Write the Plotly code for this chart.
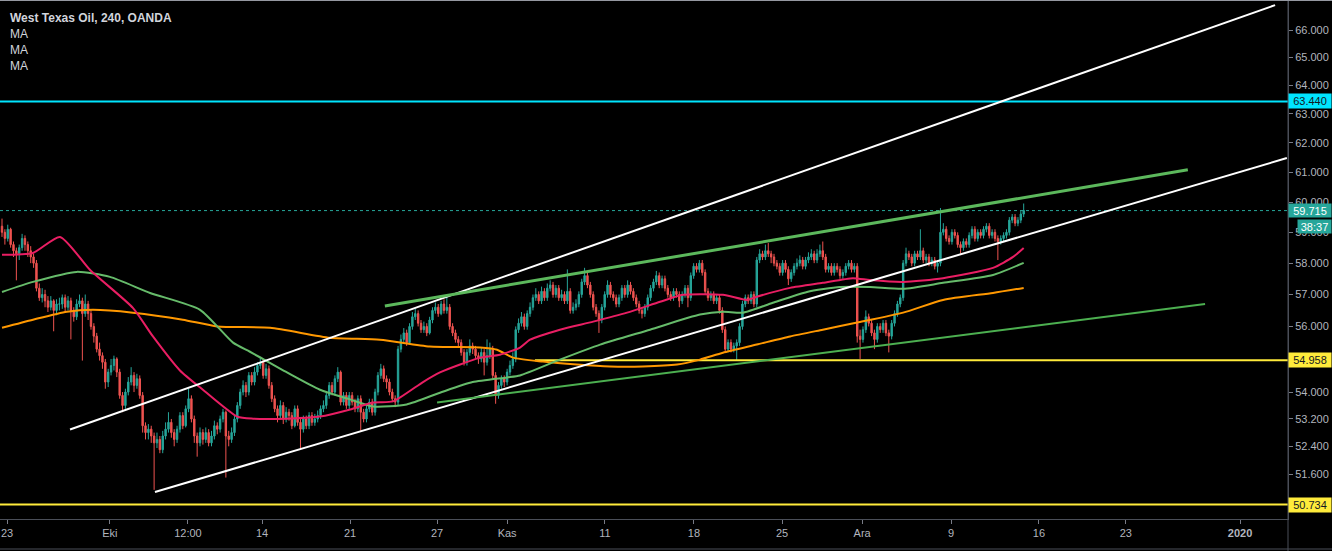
import math
import plotly.graph_objects as go

# ---------------- DATA ----------------
first_open = 59.2
close = [
    59.0, 58.8, 59.1, 58.6, 58.4, 58.3, 58.5, 58.8, 58.6, 58.4,
    58.2, 58.0, 57.2, 56.9, 57.0, 56.8, 56.6, 56.8, 56.5, 56.7,
    56.7, 56.9, 56.6, 56.8, 56.5, 56.3, 56.7, 56.8, 56.4, 56.7,
    56.4, 56.0, 55.7, 55.3, 55.1, 54.9, 54.3, 54.6, 54.8, 55.0,
    54.6, 53.9, 53.6, 54.0, 54.3, 54.5, 54.2, 54.4, 53.9, 53.0,
    52.8, 52.9, 52.7, 52.5, 52.6, 52.3, 52.7, 52.9, 53.1, 52.8,
    52.6, 52.9, 53.3, 53.0, 53.5, 53.8, 53.2, 52.7, 52.5, 52.8,
    52.6, 52.8, 52.5, 52.7, 53.0, 52.9, 53.2, 53.4, 52.7, 52.6,
    52.8, 53.2, 53.6, 54.0, 54.2, 54.0, 54.5, 54.3, 54.6, 54.8,
    54.9, 54.5, 54.7, 54.2, 53.8, 53.5, 53.3, 53.6, 53.2, 53.4,
    53.3, 53.0, 53.5, 53.1, 52.9, 53.2, 53.0, 53.3, 53.1, 53.2,
    53.3, 53.5, 53.6, 53.9, 54.2, 54.0, 54.4, 54.6, 53.7, 53.9,
    53.6, 53.9, 53.7, 53.5, 53.8, 53.4, 53.2, 53.5, 53.7, 53.4,
    54.0, 54.5, 54.7, 54.4, 54.3, 54.0, 53.8, 53.7, 55.3, 55.6,
    55.8, 55.5, 56.0, 56.3, 56.4, 56.1, 55.9, 56.0, 55.8, 56.2,
    56.5, 56.6, 56.4, 56.7, 56.5, 56.6, 56.0, 55.8, 55.6, 55.5,
    55.2, 54.9, 55.2, 55.4, 55.3, 55.1, 55.0, 55.2, 54.9, 55.1,
    55.3, 54.5, 53.9, 54.2, 54.4, 54.3, 54.6, 54.8, 55.0, 55.9,
    56.1, 56.3, 56.0, 56.4, 56.6, 56.9, 57.0, 56.8, 57.1, 56.9,
    57.2, 57.3, 57.0, 57.2, 56.9, 57.0, 56.8, 57.1, 56.5, 56.6,
    56.7, 57.0, 57.4, 57.6, 57.3, 57.0, 56.6, 56.4, 56.2, 56.6,
    57.0, 57.3, 57.0, 56.9, 56.7, 56.9, 57.2, 57.0, 57.3, 57.1,
    56.9, 56.7, 56.5, 56.4, 56.6, 56.9, 57.2, 57.4, 57.6, 57.3,
    57.5, 57.2, 57.0, 56.9, 57.1, 57.0, 56.8, 57.0, 57.2, 56.9,
    57.6, 57.9, 57.8, 58.0, 57.7, 57.1, 56.9, 57.0, 56.8, 56.9,
    56.5, 55.9, 55.3, 55.5, 55.3, 55.4, 55.5, 56.0, 56.7, 56.9,
    56.8, 57.0, 56.7, 58.1, 58.3, 58.2, 58.4, 58.3, 58.2, 58.0,
    57.9, 57.7, 58.0, 57.8, 57.5, 57.7, 57.9, 58.0, 58.1, 57.9,
    58.1, 58.2, 58.3, 58.1, 58.3, 58.4, 58.2, 57.8, 57.9, 57.7,
    57.9, 57.8, 57.6, 57.7, 57.9, 58.0, 57.8, 57.9, 55.7, 55.6,
    55.9, 56.3, 56.1, 55.8, 55.6, 56.0, 55.9, 56.1, 55.8, 55.7,
    56.1, 56.4, 56.7, 56.9, 58.0, 58.3, 58.2, 58.0, 58.3, 58.2,
    58.4, 58.1, 58.2, 58.0, 58.1, 57.9, 58.0, 59.0, 59.1, 58.8,
    58.7, 59.0, 58.9, 58.6, 58.5, 58.7, 58.6, 58.9, 59.1, 58.8,
    59.0, 58.9, 59.1, 59.2, 58.9, 59.0, 58.8, 58.7, 58.8, 58.9,
    59.0, 59.4, 59.5, 59.3, 59.4, 59.6, 59.715,
]
high = [
    59.45, 59.1, 59.25, 59.15, 58.7, 58.5, 58.6, 58.95, 58.9, 58.7,
    58.55, 58.3, 58.1, 57.35, 57.2, 57.15, 56.95, 56.95, 56.85, 56.85,
    56.9, 57.0, 57.0, 56.95, 56.9, 56.6, 56.85, 57.0, 56.9, 57.0,
    56.8, 56.5, 56.1, 55.8, 55.5, 55.2, 55.0, 54.7, 55.0, 55.1,
    55.05, 54.7, 54.0, 54.1, 54.45, 54.75, 54.6, 54.55, 54.5, 54.0,
    53.1, 53.05, 53.0, 52.8, 52.8, 52.7, 52.85, 53.1, 53.4, 53.2,
    52.9, 53.0, 53.4, 53.4, 53.6, 54.1, 53.9, 53.3, 52.8, 52.95,
    52.9, 52.95, 52.9, 52.85, 53.15, 53.1, 53.3, 53.5, 53.45, 52.85,
    52.95, 53.3, 53.7, 54.1, 54.35, 54.3, 54.6, 54.6, 54.75, 54.9,
    55.05, 55.0, 54.85, 54.8, 54.3, 53.9, 53.6, 53.75, 53.7, 53.55,
    53.5, 53.4, 53.6, 53.6, 53.2, 53.3, 53.3, 53.4, 53.4, 53.35,
    53.45, 53.6, 53.75, 54.0, 54.3, 54.3, 54.5, 54.75, 54.65, 54.0,
    54.0, 54.0, 54.0, 53.8, 53.9, 53.9, 53.5, 53.6, 53.8, 53.8,
    54.1, 54.6, 54.85, 54.8, 54.5, 54.4, 54.1, 53.9, 55.4, 55.75,
    55.95, 55.9, 56.1, 56.45, 56.55, 56.5, 56.2, 56.15, 56.1, 56.3,
    56.6, 56.75, 56.7, 56.8, 56.85, 56.95, 56.7, 56.1, 55.9, 55.7,
    55.6, 55.3, 55.3, 55.6, 55.5, 55.4, 55.2, 55.35, 55.3, 55.6,
    55.5, 55.4, 54.6, 54.3, 54.5, 54.5, 54.7, 54.95, 55.2, 56.0,
    56.25, 56.45, 56.4, 56.5, 56.75, 57.0, 57.2, 57.1, 57.25, 57.2,
    57.35, 57.45, 57.4, 57.3, 57.3, 57.15, 57.1, 57.8, 57.2, 56.75,
    56.85, 57.1, 57.5, 57.85, 57.7, 57.4, 57.1, 56.7, 56.5, 56.7,
    57.1, 57.45, 57.4, 57.1, 57.0, 57.0, 57.3, 57.3, 57.45, 57.4,
    57.2, 57.0, 56.8, 56.6, 56.7, 57.0, 57.3, 57.5, 57.75, 57.7,
    57.6, 57.6, 57.3, 57.1, 57.2, 57.2, 57.1, 57.1, 57.3, 57.3,
    57.7, 58.0, 58.0, 58.1, 58.1, 57.8, 57.2, 57.1, 57.1, 57.0,
    57.0, 56.6, 56.0, 55.6, 55.6, 55.5, 55.6, 56.1, 56.8, 57.0,
    57.0, 57.1, 57.1, 58.2, 58.45, 58.4, 58.6, 58.65, 58.4, 58.3,
    58.1, 58.0, 58.1, 58.1, 57.9, 57.8, 58.0, 58.15, 58.25, 58.2,
    58.2, 58.35, 58.45, 58.4, 58.45, 58.6, 58.7, 58.3, 58.0, 58.0,
    58.0, 58.0, 57.9, 57.8, 58.0, 58.1, 58.1, 58.0, 58.0, 55.9,
    56.0, 56.5, 56.4, 56.2, 55.9, 56.1, 56.1, 56.2, 56.2, 55.9,
    56.2, 56.5, 56.8, 57.0, 58.1, 58.5, 58.4, 58.3, 58.4, 58.4,
    59.1, 58.5, 58.3, 58.3, 58.2, 58.2, 58.1, 59.8, 59.3, 59.2,
    58.9, 59.1, 59.1, 59.0, 58.7, 58.8, 58.8, 59.0, 59.2, 59.2,
    59.1, 59.1, 59.2, 59.3, 59.3, 59.1, 59.1, 58.9, 58.9, 59.0,
    59.1, 59.5, 59.6, 59.6, 59.5, 59.7, 59.95,
]
low = [
    58.85, 58.6, 58.7, 58.5, 58.2, 57.45, 58.1, 58.4, 58.4, 58.2,
    58.0, 57.85, 57.1, 56.8, 56.75, 56.6, 56.45, 56.5, 55.85, 56.35,
    56.5, 56.55, 56.45, 56.5, 55.6, 56.15, 56.2, 56.6, 54.95, 56.3,
    56.2, 55.9, 55.5, 55.2, 54.95, 54.7, 54.1, 54.15, 54.5, 54.65,
    54.45, 53.8, 53.4, 53.5, 53.9, 54.2, 54.0, 54.1, 53.8, 52.8,
    52.6, 52.6, 52.5, 51.15, 52.35, 52.2, 52.2, 52.6, 52.8, 52.65,
    52.4, 52.5, 52.8, 52.9, 52.95, 53.4, 53.1, 52.5, 52.1, 52.4,
    52.45, 52.5, 52.4, 52.4, 52.6, 52.75, 52.8, 53.1, 51.5, 52.4,
    52.5, 52.7, 53.1, 53.5, 53.9, 53.85, 53.9, 54.2, 54.2, 54.5,
    54.7, 54.4, 54.4, 54.1, 53.7, 53.4, 53.1, 53.2, 53.05, 53.1,
    53.15, 52.9, 52.95, 53.0, 52.3, 52.8, 52.9, 52.9, 53.0, 53.0,
    53.1, 53.2, 53.4, 53.5, 53.8, 53.9, 53.9, 54.3, 53.6, 53.6,
    53.5, 53.5, 53.6, 53.4, 53.4, 52.85, 53.1, 53.1, 53.4, 53.3,
    53.3, 53.9, 54.4, 54.3, 54.1, 53.9, 53.7, 53.55, 53.6, 55.2,
    55.5, 55.4, 55.45, 55.9, 56.2, 56.0, 55.8, 55.8, 55.7, 55.75,
    56.1, 56.4, 56.3, 56.35, 56.4, 56.4, 55.9, 55.7, 55.5, 55.35,
    55.1, 54.8, 54.8, 55.1, 55.15, 55.0, 54.85, 54.9, 54.5, 54.8,
    55.0, 54.4, 53.65, 53.8, 54.1, 54.15, 54.2, 54.5, 54.7, 54.9,
    55.8, 56.0, 55.9, 55.9, 56.3, 56.5, 56.8, 56.7, 56.7, 56.8,
    56.8, 57.1, 56.9, 56.9, 56.8, 56.8, 56.7, 56.7, 56.4, 56.4,
    56.5, 56.6, 56.9, 57.3, 57.2, 56.9, 56.5, 56.3, 55.8, 56.1,
    56.5, 56.9, 56.9, 56.8, 56.6, 56.6, 56.8, 56.9, 56.9, 57.0,
    56.8, 56.6, 56.4, 56.25, 56.3, 56.5, 56.8, 57.1, 57.3, 57.2,
    57.2, 57.1, 56.9, 56.8, 56.8, 56.9, 56.6, 56.7, 56.9, 56.6,
    56.8, 57.5, 57.7, 57.7, 57.6, 57.0, 56.8, 56.8, 56.7, 56.7,
    56.4, 55.8, 55.2, 55.2, 55.2, 55.2, 54.95, 55.4, 55.9, 56.6,
    56.7, 56.7, 56.6, 56.6, 58.0, 58.1, 58.1, 58.2, 58.0, 57.9,
    57.8, 57.6, 57.6, 57.7, 57.3, 57.4, 57.6, 57.8, 57.9, 57.8,
    57.8, 58.0, 58.1, 58.0, 58.0, 58.2, 58.1, 57.7, 57.7, 57.6,
    57.6, 57.7, 57.5, 57.5, 57.6, 57.8, 57.7, 57.7, 55.5, 55.0,
    55.5, 55.8, 56.0, 55.7, 55.3, 55.5, 55.8, 55.8, 55.7, 55.2,
    55.6, 56.0, 56.3, 56.6, 56.8, 57.9, 58.1, 57.9, 57.9, 58.1,
    58.1, 58.0, 58.0, 57.9, 57.9, 57.8, 57.7, 57.9, 58.9, 58.7,
    58.6, 58.6, 58.8, 58.5, 58.3, 58.4, 58.5, 58.5, 58.8, 58.7,
    58.7, 58.8, 58.8, 59.0, 58.8, 58.8, 58.7, 58.1, 58.6, 58.7,
    58.8, 58.9, 59.3, 59.2, 59.2, 59.3, 59.5,
]

# moving averages read at sample bars (bar index, price)
ma_fast_bar = [0, 10.8, 20.2, 30.7, 45.6, 52.6, 62, 70, 82, 87.5, 99.3, 110.8, 121.3, 129.3,
               136.2, 146.7, 152.6, 159.6, 166.6, 173.5, 180.5, 184, 194.4, 206, 217.8,
               229.3, 237.3, 251.2, 259.6, 263, 274.6, 286, 296.5, 302.4, 314, 327.9,
               345.3, 352.3, 356]
ma_fast_val = [58.27, 58.33, 58.85, 57.78, 56.58, 55.69, 54.65, 54.07, 53.27, 53.21, 53.21,
               53.27, 53.48, 53.69, 53.72, 54.30, 54.59, 54.83, 55.04, 55.13, 55.35, 55.59,
               55.90, 56.15, 56.43, 56.77, 56.99, 56.99, 56.83, 56.93, 57.21, 57.37, 57.52,
               57.46, 57.40, 57.52, 57.85, 58.20, 58.49]
ma_mid_bar = [0, 10.8, 26, 37.6, 51.6, 69, 80.5, 86.4, 99.3, 110.8, 121.3, 129.3, 141,
              152.6, 164, 176, 180.5, 194.4, 208.4, 225.8, 243.2, 251.2, 258.2, 268.6,
              280.5, 292, 302.4, 314, 327.9, 345.3, 356]
ma_mid_val = [57.08, 57.40, 57.72, 57.56, 57.05, 56.52, 55.50, 55.22, 54.59, 54.07, 53.78,
              53.57, 53.63, 53.98, 54.30, 54.44, 54.50, 54.98, 55.44, 55.90, 56.37, 56.46,
              56.43, 56.74, 57.08, 57.24, 57.24, 57.18, 57.37, 57.62, 58.01]
ma_slow_bar = [0, 10.8, 22.6, 31.7, 45.6, 63, 75, 93.4, 114.3, 131.7, 149, 166.6, 172.5,
               178, 188.5, 200.3, 211.8, 223.3, 235.2, 243.2, 251.2, 263, 274.6, 286, 298,
               314, 327.9, 345.3, 356]
ma_slow_val = [55.96, 56.21, 56.46, 56.52, 56.43, 56.21, 56.00, 55.96, 55.65, 55.59, 55.38,
               55.35, 55.28, 55.04, 54.92, 54.83, 54.77, 54.77, 54.83, 54.98, 55.19, 55.44,
               55.69, 55.90, 56.12, 56.43, 56.83, 57.05, 57.21]

# drawings: (bar index pair, price pair)
channel_upper_bar = [23.7, 443.6]
channel_upper_val = [52.89, 66.92]
channel_lower_bar = [53.3, 447.7]
channel_lower_val = [51.09, 61.48]
wedge_upper_bar = [133.4, 413.2]
wedge_upper_val = [56.64, 61.08]
wedge_lower_bar = [151.6, 419.2]
wedge_lower_val = [53.69, 56.70]

level_resistance = 63.44
level_support = 54.958
level_support_start_bar = 185.7
level_low = 50.734
last_price = 59.715
countdown = "38:37"

x_tick_bars = [1.74, 37.6, 64.8, 90.6, 121.3, 151.6, 176, 210.1, 241.1, 271.8, 299.7,
               330.7, 361.3, 391.6, 431.4]
x_tick_text = ["23", "Eki", "12:00", "14", "21", "27", "Kas", "11", "18", "25", "Ara",
               "9", "16", "23", "<b>2020</b>"]
y_tick_vals = [51.6, 52.4, 53.2, 54, 55, 56, 57, 58, 59, 60, 61, 62, 63, 64, 65, 66]

x_range = [-0.7, 448.1]
y_range_price = [50.33, 67.11]

# ---------------- FIGURE ----------------
bars = list(range(len(close)))
opens = [first_open] + close[:-1]
high = [max(h, o, c) for h, o, c in zip(high, opens, close)]
low = [min(l, o, c) for l, o, c in zip(low, opens, close)]

UP = "#26a69a"
DOWN = "#ef5350"
TXT = "#b2b5be"
FONT = "Liberation Sans, Arial, sans-serif"

fig = go.Figure()

def line(xs, ys, color, width, dash="solid", shape="linear"):
    fig.add_trace(go.Scatter(x=xs, y=ys, mode="lines", hoverinfo="skip", showlegend=False,
                             line=dict(color=color, width=width, dash=dash, shape=shape,
                                       smoothing=0.6 if shape == "spline" else None)))

# horizontal levels
line(x_range, [level_resistance] * 2, "#00e5ff", 2)
line([level_support_start_bar, x_range[1]], [level_support] * 2, "#ffeb3b", 2)
line(x_range, [level_low] * 2, "#ffeb3b", 2)
line(x_range, [last_price] * 2, "#26a69a", 1, dash="dot")

# moving averages
line(ma_slow_bar, ma_slow_val, "#ff9800", 2, shape="spline")
line(ma_mid_bar, ma_mid_val, "#66bb6a", 2, shape="spline")
line(ma_fast_bar, ma_fast_val, "#e91e63", 2, shape="spline")

# candles
fig.add_trace(go.Candlestick(
    x=bars, open=opens, high=high, low=low, close=close,
    increasing=dict(line=dict(color=UP, width=1), fillcolor=UP),
    decreasing=dict(line=dict(color=DOWN, width=1), fillcolor=DOWN),
    whiskerwidth=0, hoverinfo="skip", showlegend=False))

# drawings
line(channel_upper_bar, channel_upper_val, "#ffffff", 2)
line(channel_lower_bar, channel_lower_val, "#ffffff", 2)
line(wedge_upper_bar, wedge_upper_val, "#5cb85c", 3)
line(wedge_lower_bar, wedge_lower_val, "#4caf50", 2)

ann = []
# header texts
ann.append(dict(xref="paper", yref="paper", x=0.006, y=1 - 18 / 519, xanchor="left",
                yanchor="middle", showarrow=False, text="<b>West Texas Oil, 240, OANDA</b>",
                font=dict(family=FONT, size=12, color="#d1d4dc")))
for k in range(3):
    ann.append(dict(xref="paper", yref="paper", x=0.006, y=1 - (34 + 16 * k) / 519,
                    xanchor="left", yanchor="middle", showarrow=False, text="MA",
                    font=dict(family=FONT, size=12, color="#d1d4dc")))

# price labels on the axis
def price_label(price, bg, fg, text=None, yshift=0, xshift=0, width=40, height=12):
    ann.append(dict(xref="paper", yref="y", x=1, y=math.log10(price), xanchor="left",
                    yanchor="middle", showarrow=False, xshift=xshift, yshift=yshift,
                    text=text if text else f"{price:.3f}", bgcolor=bg, borderpad=1,
                    width=width, height=height, align="center",
                    font=dict(family=FONT, size=11, color=fg)))

price_label(level_resistance, "#00e5ff", "#131722")
price_label(level_support, "#ffeb3b", "#131722")
price_label(level_low, "#ffeb3b", "#131722")
price_label(last_price, "#26a69a", "#ffffff", height=11)
price_label(last_price, "#26a69a", "#ffffff", text=countdown, yshift=-16, xshift=9,
            width=31, height=11)

shapes = [
    dict(type="line", xref="paper", yref="paper", x0=1, x1=1, y0=-32 / 519, y1=1,
         line=dict(color="#4a4e58", width=1)),
    dict(type="line", xref="paper", yref="paper", x0=0, x1=1332 / 1288, y0=1, y1=1,
         line=dict(color="#9598a1", width=2)),
    dict(type="line", xref="paper", yref="paper", x0=0, x1=1332 / 1288,
         y0=-30 / 519, y1=-30 / 519, line=dict(color="#4a4e58", width=1)),
]

fig.update_layout(
    width=1332, height=551,
    margin=dict(l=0, r=44, t=0, b=32, autoexpand=False),
    paper_bgcolor="#000000", plot_bgcolor="#000000",
    showlegend=False, annotations=ann, shapes=shapes,
    xaxis=dict(range=x_range, tickvals=x_tick_bars, ticktext=x_tick_text,
               showgrid=False, zeroline=False, showline=True, linecolor="#4a4e58",
               ticks="outside", ticklen=4, tickcolor="#787b86", automargin=False,
               tickfont=dict(family=FONT, size=11, color=TXT),
               rangeslider=dict(visible=False), fixedrange=True),
    yaxis=dict(type="log", side="right",
               range=[math.log10(y_range_price[0]), math.log10(y_range_price[1])],
               tickvals=y_tick_vals, ticktext=[f"{v:.3f}" for v in y_tick_vals],
               showgrid=False, zeroline=False, showline=True, linecolor="#4a4e58",
               ticks="outside", ticklen=4, tickcolor="#787b86", automargin=False,
               tickfont=dict(family=FONT, size=11, color=TXT), fixedrange=True),
)

fig.write_html(
    "out.html",
    config={"displayModeBar": False},
    post_script="document.body.style.margin='0';document.body.style.background='#000';",
)
